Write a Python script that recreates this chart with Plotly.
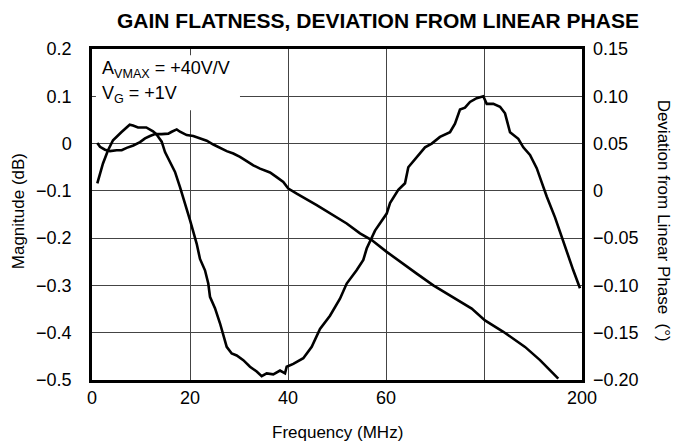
import plotly.graph_objects as go

# Magnitude (left axis, dB)
freq_mag = [1.08, 1.63, 2.65, 3.67, 5.04, 6.06, 7.08, 8.43, 9.8, 10.82, 11.84, 12.86, 14.22, 15.57,
            16.27, 17.29, 17.96, 19.33, 20.67, 22.04, 23.41, 24.76, 26.12, 27.49, 28.84, 30.2, 31.57,
            32.92, 34.29, 36.33, 37.69, 39.04, 40.06, 41.78, 45.86, 48.57, 51.98, 54.69, 57.08, 60.14,
            62.86, 66.27, 69.65, 73.73, 77.49, 80.2, 83.94, 88.37, 91.43, 95.16]
mag_db = [0.001, -0.007, -0.013, -0.016, -0.014, -0.014, -0.009, -0.004, 0.003, 0.011, 0.016, 0.020,
          0.020, 0.021, 0.025, 0.030, 0.025, 0.018, 0.016, 0.011, 0.006, -0.002, -0.009, -0.016,
          -0.021, -0.028, -0.037, -0.046, -0.053, -0.061, -0.071, -0.081, -0.095, -0.106, -0.130,
          -0.148, -0.169, -0.190, -0.204, -0.229, -0.250, -0.275, -0.300, -0.325, -0.349, -0.374,
          -0.398, -0.430, -0.458, -0.497]

# Deviation from linear phase (right axis, degrees)
freq_ph = [1.08, 2.24, 3.27, 4.29, 5.98, 7.69, 8.37, 9.39, 11.08, 12.45, 13.12, 14.22, 14.9, 15.92,
           16.94, 17.96, 18.98, 20.0, 21.37, 22.04, 23.06, 23.73, 24.08, 25.1, 26.12, 26.8, 27.49,
           28.51, 29.53, 30.88, 32.24, 33.61, 34.63, 35.65, 37.0, 38.37, 39.39, 39.73, 41.08, 43.12,
           44.84, 46.53, 48.57, 50.61, 51.98, 54.0, 55.37, 56.06, 57.76, 60.14, 60.82, 62.51, 63.88,
           64.55, 66.27, 67.96, 69.33, 71.02, 73.06, 74.08, 75.1, 76.12, 77.14, 78.51, 79.86, 80.55,
           81.9, 83.27, 84.29, 85.31, 87.0, 88.02, 89.39, 90.76, 91.78, 92.8, 94.49, 96.18, 98.22, 99.59]
phase_deg = [0.008, 0.029, 0.043, 0.0535, 0.062, 0.070, 0.069, 0.067, 0.067, 0.063, 0.060, 0.052,
             0.041, 0.031, 0.020, 0.004, -0.013, -0.031, -0.056, -0.072, -0.084, -0.098, -0.112,
             -0.124, -0.140, -0.154, -0.165, -0.172, -0.174, -0.179, -0.186, -0.191, -0.196, -0.193,
             -0.194, -0.190, -0.193, -0.186, -0.183, -0.177, -0.165, -0.146, -0.132, -0.114, -0.098,
             -0.084, -0.073, -0.061, -0.042, -0.024, -0.013, 0.001, 0.008, 0.025, 0.036, 0.046, 0.050,
             0.057, 0.062, 0.071, 0.086, 0.088, 0.094, 0.098, 0.100, 0.092, 0.092, 0.089, 0.082,
             0.062, 0.055, 0.046, 0.038, 0.024, 0.009, -0.006, -0.028, -0.054, -0.084, -0.103]

x_tickvals = [0, 20, 40, 60, 80, 100]
x_ticktext = ["0", "20", "40", "60", " ", "200"]
y1_tickvals = [0.2, 0.1, 0, -0.1, -0.2, -0.3, -0.4, -0.5]
y1_ticktext = ["0.2", "0.1", "0", "\u22120.1", "\u22120.2", "\u22120.3", "\u22120.4", "\u22120.5"]
y2_tickvals = [0.15, 0.10, 0.05, 0, -0.05, -0.10, -0.15, -0.20]
y2_ticktext = ["0.15", "0.10", "0.05", "0", "\u22120.05", "\u22120.10", "\u22120.15", "\u22120.20"]

FONT = "Liberation Sans, Arial, Helvetica, sans-serif"

fig = go.Figure()
fig.add_trace(go.Scatter(x=freq_mag, y=mag_db, mode="lines",
                         line=dict(color="black", width=2.6), yaxis="y", showlegend=False))
fig.add_trace(go.Scatter(x=freq_ph, y=phase_deg, mode="lines",
                         line=dict(color="black", width=2.6), yaxis="y2", showlegend=False))

fig.update_layout(
    width=675, height=442,
    margin=dict(l=92, r=93, t=49, b=62),
    paper_bgcolor="white", plot_bgcolor="white",
    font=dict(family=FONT, size=18, color="black"),
    xaxis=dict(range=[0, 100], tickvals=x_tickvals, ticktext=x_ticktext,
               showgrid=True, gridcolor="#444", gridwidth=1, zeroline=False,
               showline=True, linecolor="black", linewidth=2.5, mirror=True,
               ticks="", ticklabelstandoff=0, tickfont=dict(size=18)),
    yaxis=dict(range=[-0.5, 0.2], tickvals=y1_tickvals, ticktext=y1_ticktext,
               showgrid=True, gridcolor="#444", gridwidth=1, zeroline=False,
               showline=True, linecolor="black", linewidth=2.5, mirror=True,
               ticks="", ticklabelstandoff=14, tickfont=dict(size=18)),
    yaxis2=dict(range=[-0.20, 0.15], tickvals=y2_tickvals, ticktext=y2_ticktext,
                overlaying="y", side="right", showgrid=False, zeroline=False,
                showline=False, ticks="", ticklabelstandoff=10, tickfont=dict(size=18)),
)

# white box behind the conditions text
fig.add_shape(type="rect", xref="paper", yref="paper", x0=0.008, x1=0.302, y0=0.815, y1=0.981,
              fillcolor="white", line=dict(width=0), layer="above")

annotations = [
    dict(text="<b>GAIN FLATNESS, DEVIATION FROM LINEAR PHASE</b>", x=0.584, y=1.087,
         font=dict(size=21)),
    dict(text="A<sub>VMAX</sub> = +40V/V", x=0.016, y=0.937, xanchor="left", font=dict(size=18)),
    dict(text="V<sub>G</sub> = +1V", x=0.016, y=0.862, xanchor="left", font=dict(size=18)),
    dict(text="Frequency (MHz)", x=0.5, y=-0.158, font=dict(size=17)),
    dict(text="Magnitude (dB)", x=-0.151, y=0.51, textangle=-90, font=dict(size=17)),
    dict(text="Deviation from Linear Phase  (\u00b0)", x=1.167, y=0.482, textangle=90,
         font=dict(size=17)),
]
for a in annotations:
    a.setdefault("xanchor", "center")
    fig.add_annotation(xref="paper", yref="paper", showarrow=False, yanchor="middle", **a)

fig.write_html("out.html", config={"displayModeBar": False},
               post_script="document.body.style.margin='0';document.body.style.padding='0';"
                           "document.body.style.overflow='hidden';")
